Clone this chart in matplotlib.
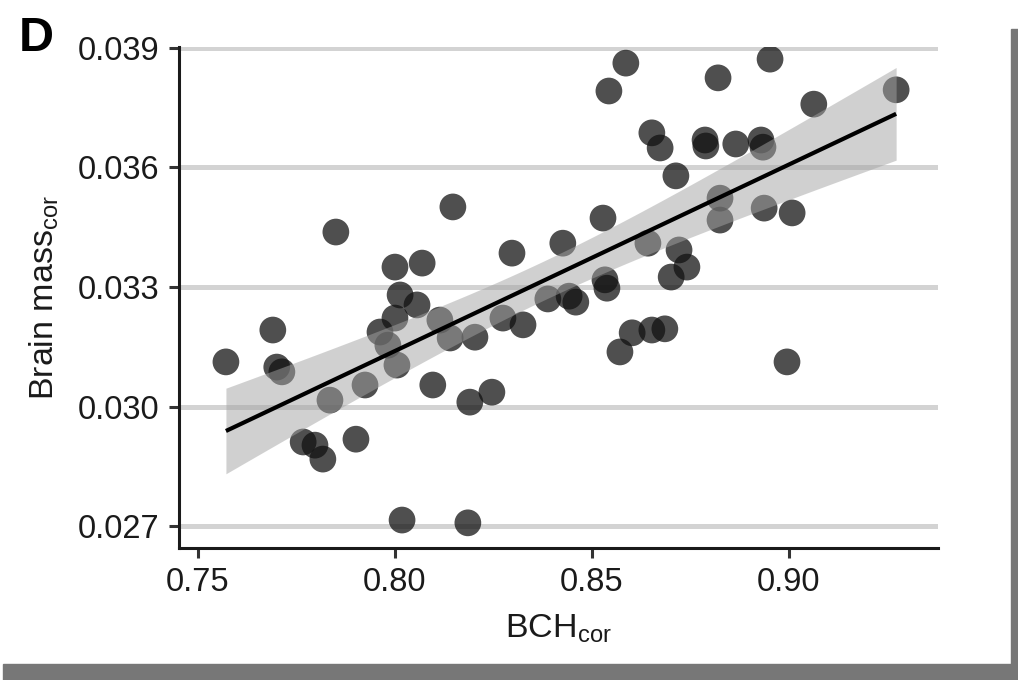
import numpy as np
import matplotlib
matplotlib.use("Agg")
import matplotlib.pyplot as plt
from matplotlib.patches import Rectangle

plt.rcParams['font.family'] = ['Liberation Sans', 'DejaVu Sans']
plt.rcParams['mathtext.fontset'] = 'custom'
plt.rcParams['mathtext.rm'] = 'Liberation Sans'
plt.rcParams['mathtext.it'] = 'Liberation Sans'

# Data (BCH_cor vs Brain mass_cor)
bch = [0.7571, 0.7690, 0.7700, 0.7713, 0.7850, 0.7767, 0.7797, 0.7817, 0.7901,
       0.7835, 0.7924, 0.7962, 0.8005, 0.8000, 0.8013, 0.8056, 0.8000, 0.8069,
       0.8114, 0.8096, 0.8190, 0.8246, 0.8147, 0.8018, 0.8185, 0.8140, 0.8203,
       0.8274, 0.8325, 0.8297, 0.8426, 0.8388, 0.8442, 0.8459, 0.8528, 0.8533,
       0.8538, 0.8642, 0.8721, 0.8741, 0.8701, 0.8571, 0.8602, 0.8652, 0.8685,
       0.8995, 0.8586, 0.8543, 0.8952, 0.8820, 0.9063, 0.9272, 0.8652, 0.8673,
       0.8787, 0.8789, 0.8865, 0.8929, 0.8934, 0.8713, 0.8825, 0.8825, 0.8937,
       0.9008, 0.7982]
brain = [0.03112, 0.03192, 0.03099, 0.03087, 0.03438, 0.02911, 0.02903, 0.02868,
         0.02918, 0.03016, 0.03054, 0.03187, 0.03104, 0.03222, 0.03280, 0.03255,
         0.03350, 0.03360, 0.03217, 0.03054, 0.03011, 0.03036, 0.03501, 0.02715,
         0.02708, 0.03172, 0.03174, 0.03222, 0.03205, 0.03385, 0.03410, 0.03270,
         0.03277, 0.03262, 0.03473, 0.03318, 0.03297, 0.03410, 0.03393, 0.03350,
         0.03325, 0.03137, 0.03185, 0.03192, 0.03195, 0.03112, 0.03862, 0.03792,
         0.03872, 0.03825, 0.03759, 0.03795, 0.03687, 0.03649, 0.03669, 0.03654,
         0.03659, 0.03669, 0.03651, 0.03579, 0.03523, 0.03468, 0.03498, 0.03486,
         0.03154]
xticks = [0.75, 0.80, 0.85, 0.90]
xtick_labels = ["0.75", "0.80", "0.85", "0.90"]
yticks = [0.027, 0.030, 0.033, 0.036, 0.039]
ytick_labels = ["0.027", "0.030", "0.033", "0.036", "0.039"]

x = np.array(bch)
y = np.array(brain)

# Linear fit with 95% confidence band
n = len(x)
slope, intercept = np.polyfit(x, y, 1)
xs = np.linspace(x.min(), x.max(), 200)
ys = intercept + slope * xs
resid = y - (intercept + slope * x)
s = np.sqrt(np.sum(resid ** 2) / (n - 2))
sxx = np.sum((x - x.mean()) ** 2)
se = s * np.sqrt(1.0 / n + (xs - x.mean()) ** 2 / sxx)
tval = 1.998
lo = ys - tval * se
hi = ys + tval * se

fig = plt.figure(figsize=(10.18, 6.80), dpi=100)
ax = fig.add_axes([0.1758, 0.1941, 0.9214 - 0.1758, 0.9309 - 0.1941])

ax.set_xlim(0.74518, 0.93782)
ax.set_ylim(0.026448, 0.039025)

for yt in yticks:
    ax.axhline(yt, color='#d3d3d3', lw=3.6, zorder=0.5)

ax.scatter(x, y, s=370, color='#111111', alpha=0.74, edgecolors='none', zorder=2)
ax.fill_between(xs, lo, hi, color='#a3a3a3', alpha=0.5, lw=0, zorder=3)
ax.plot(xs, ys, color='black', lw=3.0, zorder=4, solid_capstyle='butt')

ax.set_xticks(xticks)
ax.set_xticklabels(xtick_labels)
ax.set_yticks(yticks)
ax.set_yticklabels(ytick_labels)
ax.tick_params(axis='both', labelsize=23.5, colors='#333333', labelcolor='#1a1a1a',
               length=7, width=2.2)
ax.tick_params(axis='x', pad=7)
ax.tick_params(axis='y', pad=7)

for side in ['top', 'right']:
    ax.spines[side].set_visible(False)
for side in ['left', 'bottom']:
    ax.spines[side].set_linewidth(2.2)
    ax.spines[side].set_color('#1a1a1a')

ax.set_xlabel(r'BCH$_{\mathregular{cor}}$', fontsize=24.5, color='#1a1a1a', labelpad=10)
ax.set_ylabel(r'Brain mass$_{\mathregular{cor}}$', fontsize=24.5, color='#1a1a1a', labelpad=12)

fig.text(19 / 1018, 1 - 51 / 680, 'D', fontsize=35, fontweight='bold', color='black',
         ha='left', va='baseline')

# Gray frame bars (right and bottom)
fig.patches.append(Rectangle((1011 / 1018, 0), 7 / 1018, 1 - 29 / 680,
                             transform=fig.transFigure, color='#777777', zorder=10))
fig.patches.append(Rectangle((3 / 1018, 0), 1 - 3 / 1018, 16 / 680,
                             transform=fig.transFigure, color='#777777', zorder=10))

fig.savefig('out.png', dpi=100)
